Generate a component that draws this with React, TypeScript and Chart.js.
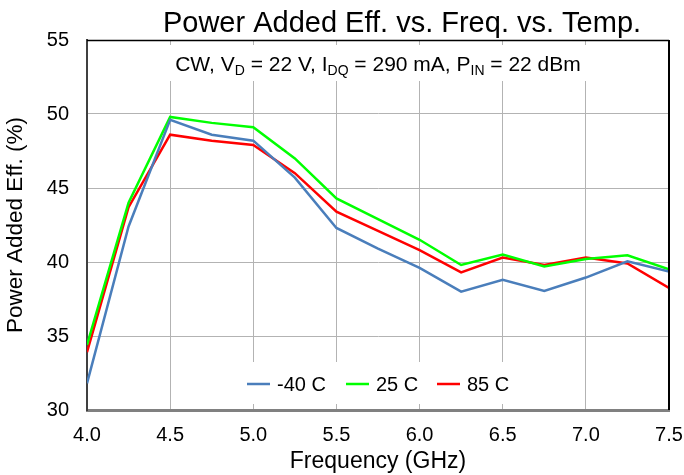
import React, { useEffect, useRef } from "react";
import { Chart, registerables } from "chart.js";

Chart.register(...registerables);

const freqGHz = [4.0, 4.25, 4.5, 4.75, 5.0, 5.25, 5.5, 5.75, 6.0, 6.25, 6.5, 6.75, 7.0, 7.25, 7.5];
const paeM40 = [31.8, 42.4, 49.6, 48.6, 48.2, 45.7, 42.3, 40.9, 39.6, 38.0, 38.8, 38.05, 38.95, 40.05, 39.35];
const pae25 = [34.4, 44.0, 49.8, 49.4, 49.1, 47.0, 44.3, 42.9, 41.5, 39.8, 40.5, 39.7, 40.2, 40.45, 39.5];
const pae85 = [33.9, 43.7, 48.6, 48.2, 47.9, 46.0, 43.4, 42.1, 40.8, 39.3, 40.3, 39.8, 40.3, 39.9, 38.25];
const seriesLabels = ["-40 C", "25 C", "85 C"];
const seriesColors = ["#4a7ebb", "#00ff00", "#ff0000"];
const titleText = "Power Added Eff. vs. Freq. vs. Temp.";
const xTitle = "Frequency (GHz)";
const yTitle = "Power Added Eff. (%)";
// subtitle pieces: [text, isSubscript]
const subtitleParts: [string, boolean][] = [
  ["CW, V", false], ["D", true], [" = 22 V, I", false], ["DQ", true],
  [" = 290 mA, P", false], ["IN", true], [" = 22 dBm", false],
];

const FONT = "'Liberation Sans', Arial, sans-serif";

export default function App() {
  const ref = useRef<HTMLCanvasElement | null>(null);
  useEffect(() => {
    const canvas = ref.current!;
    const series = [paeM40, pae25, pae85];
    const overlay = {
      id: "overlay",
      beforeDatasetsDraw(chart: any) {
        const ctx = chart.ctx as CanvasRenderingContext2D;
        const xs = chart.scales.x;
        ctx.save();
        // subtitle box
        ctx.fillStyle = "#ffffff";
        ctx.fillRect(164, 45, 432, 36);
        // subtitle text
        const mainF = `21px ${FONT}`;
        const subF = `14px ${FONT}`;
        let total = 0;
        for (const [t, s] of subtitleParts) {
          ctx.font = s ? subF : mainF;
          total += ctx.measureText(t).width;
        }
        let cx = (xs.left + xs.right) / 2 - total / 2;
        ctx.fillStyle = "#000";
        ctx.textBaseline = "alphabetic";
        ctx.textAlign = "left";
        for (const [t, s] of subtitleParts) {
          ctx.font = s ? subF : mainF;
          ctx.fillText(t, cx, s ? 75 : 71);
          cx += ctx.measureText(t).width;
        }
        // legend box
        ctx.fillStyle = "#ffffff";
        ctx.fillRect(238, 362, 280, 42);
        const legX = [247, 346, 437];
        ctx.font = `20px ${FONT}`;
        ctx.textBaseline = "middle";
        for (let i = 0; i < 3; i++) {
          ctx.strokeStyle = seriesColors[i];
          ctx.lineWidth = 2.5;
          ctx.beginPath();
          ctx.moveTo(legX[i], 384);
          ctx.lineTo(legX[i] + 23, 384);
          ctx.stroke();
          ctx.fillStyle = "#000";
          ctx.fillText(seriesLabels[i], legX[i] + 30, 385);
        }
        ctx.restore();
      },
      afterDraw(chart: any) {
        const ctx = chart.ctx as CanvasRenderingContext2D;
        const a = chart.chartArea;
        ctx.save();
        ctx.strokeStyle = "#000";
        ctx.lineWidth = 1.5;
        ctx.beginPath();
        ctx.moveTo(a.left, a.top + 0.5);
        ctx.lineTo(a.right, a.top + 0.5);
        ctx.stroke();
        ctx.lineWidth = 2;
        ctx.beginPath();
        ctx.moveTo(a.right, a.top);
        ctx.lineTo(a.right, a.bottom);
        ctx.stroke();
        ctx.fillStyle = "#000";
        ctx.font = `29px ${FONT}`;
        ctx.textAlign = "center";
        ctx.textBaseline = "alphabetic";
        ctx.fillText(titleText, 402, 32);
        ctx.restore();
      },
    };
    const chart = new Chart(canvas, {
      type: "line",
      data: {
        datasets: series.map((vals, i) => ({
          label: seriesLabels[i],
          data: vals.map((v, j) => ({ x: freqGHz[j], y: v })),
          borderColor: seriesColors[i],
          backgroundColor: seriesColors[i],
          borderWidth: 2.5,
          pointRadius: 0,
          tension: 0,
          fill: false,
        })),
      },
      options: {
        animation: false,
        responsive: false,
        devicePixelRatio: 1,
        layout: { padding: { top: 40, right: 15, left: 0, bottom: 0 } },
        plugins: { legend: { display: false }, title: { display: false }, tooltip: { enabled: false } },
        scales: {
          x: {
            type: "linear",
            min: 4,
            max: 7.5,
            afterFit(scale: any) { scale.height = 65; scale.paddingLeft = 0; scale.paddingRight = 0; },
            ticks: {
              stepSize: 0.5,
              color: "#000",
              font: { family: FONT, size: 20 },
              padding: 13,
              maxRotation: 0,
              callback: (v: any) => Number(v).toFixed(1),
            },
            grid: { color: "#b3b3b3", lineWidth: 1, drawTicks: false },
            border: { color: "#808080", width: 3 },
            title: { display: true, text: xTitle, color: "#000", font: { family: FONT, size: 23 }, padding: { top: 0, bottom: 0 } },
          },
          y: {
            min: 30,
            max: 55,
            afterFit(scale: any) { scale.width = 87; scale.paddingTop = 0; scale.paddingBottom = 0; },
            ticks: {
              stepSize: 5,
              color: "#000",
              font: { family: FONT, size: 20 },
              padding: 18,
            },
            grid: { color: "#b3b3b3", lineWidth: 1, drawTicks: false },
            border: { color: "#404040", width: 2 },
            title: { display: true, text: yTitle, color: "#000", font: { family: FONT, size: 22.5 }, padding: { top: 2, bottom: 0 } },
          },
        },
      },
      plugins: [overlay],
    } as any);
    return () => chart.destroy();
  }, []);
  return (
    <div style={{ position: "fixed", left: 0, top: 0, width: 684, height: 475, background: "#fff" }}>
      <canvas ref={ref} width={684} height={475} style={{ width: 684, height: 475 }} />
    </div>
  );
}
